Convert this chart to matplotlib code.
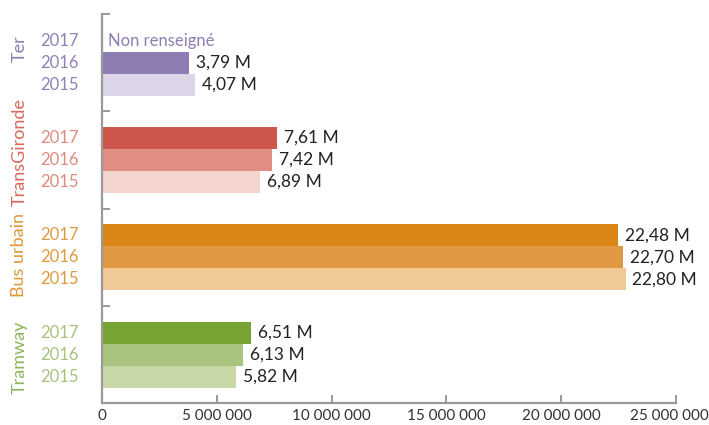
import matplotlib
matplotlib.use("Agg")
import matplotlib.pyplot as plt
import matplotlib.transforms as mtransforms
from matplotlib.ticker import FuncFormatter

plt.rcParams.update({"font.family": ["Lato", "DejaVu Sans"], "font.size": 12})

# ---------- data ----------
modes = ["Tramway", "Bus urbain", "TransGironde", "Ter"]
years = ["2017", "2016", "2015"]
v2017 = [6.51e6, 22.48e6, 7.61e6, None]
v2016 = [6.13e6, 22.70e6, 7.42e6, 3.79e6]
v2015 = [5.82e6, 22.80e6, 6.89e6, 4.07e6]
x_ticks = [0, 5e6, 10e6, 15e6, 20e6, 25e6]
missing_label = "Non renseigné"

# colours per mode: (2017, 2016, 2015), mode label, year labels
bar_colors = {
    "Tramway": ("#77a335", "#a9c47f", "#c8d9a7"),
    "Bus urbain": ("#d98617", "#e09943", "#f0c996"),
    "TransGironde": ("#cc564c", "#e08d82", "#f4d5cd"),
    "Ter": ("#8d7db3", "#8d7db3", "#dcd5e8"),
}
mode_color = {"Tramway": "#8db55a", "Bus urbain": "#e0983a",
              "TransGironde": "#d9675a", "Ter": "#8d7db3"}
year_color = {"Tramway": "#a6c27b", "Bus urbain": "#e0993f",
              "TransGironde": "#e0897f", "Ter": "#9080b5"}
label_shift = {"Ter": 0.14, "TransGironde": 0.08, "Bus urbain": 0.02, "Tramway": -0.03}

BAR_H = 0.225
GREY = "#9a9a9a"


def fmt_m(v):
    return f"{v / 1e6:.2f}".replace(".", ",") + " M"


fig = plt.figure(figsize=(7.09, 4.25), dpi=100)
ax = fig.add_axes([0.1439, 0.051, 0.8096, 0.916])

series = [v2017, v2016, v2015]
offsets = [BAR_H, 0, -BAR_H]
for gi, mode in enumerate(modes):
    for si, (vals, off) in enumerate(zip(series, offsets)):
        y = gi + off
        v = vals[gi]
        ax.text(-0.04, y, years[si], transform=ax.get_yaxis_transform(),
                ha="right", va="center", fontsize=12, color=year_color[mode])
        if v is None:
            ax.text(0.25e6, y, missing_label, ha="left", va="center",
                    fontsize=12, color=mode_color[mode])
            continue
        ax.barh(y, v, height=BAR_H, color=bar_colors[mode][si], linewidth=0)
        ax.text(v + 0.3e6, y, fmt_m(v), ha="left", va="center",
                fontsize=12.5, color="#222222")
    ax.text(-0.144, gi + label_shift[mode], mode, transform=ax.get_yaxis_transform(),
            rotation=90, ha="center", va="center", fontsize=13, color=mode_color[mode])

ax.set_xlim(0, 25e6)
ax.set_ylim(-0.5, 3.5)
ax.set_xticks(x_ticks)
ax.xaxis.set_major_formatter(FuncFormatter(lambda v, p: f"{int(v):,}".replace(",", " ")))
ax.set_yticks([0.5, 1.5, 2.5, 3.5])
ax.set_yticklabels([])

for s in ["top", "right"]:
    ax.spines[s].set_visible(False)
for s in ["left", "bottom"]:
    ax.spines[s].set_color(GREY)
    ax.spines[s].set_linewidth(1.6)
ax.tick_params(axis="x", direction="in", length=6, width=1.4, color=GREY,
               labelsize=11, labelcolor="#333333", pad=4)
ax.tick_params(axis="y", direction="in", length=6, width=1.4, color=GREY)

# nudge the last tick label so it stays inside the picture
last = ax.get_xticklabels()[-1]
last.set_transform(last.get_transform() +
                   mtransforms.ScaledTranslation(-5 / 72, 0, fig.dpi_scale_trans))

fig.savefig("out.png", dpi=100)
